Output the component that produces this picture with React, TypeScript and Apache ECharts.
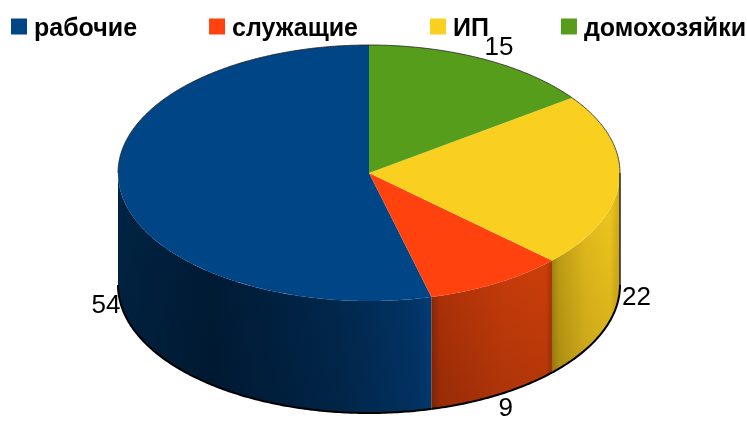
import React, { useEffect, useRef } from "react";
import * as echarts from "echarts";

const categories = ["рабочие", "служащие", "ИП", "домохозяйки"];
const shares = [54, 9, 22, 15];
const topColors = ["#004586", "#ff420e", "#f9d01f", "#579d1c"];
const sideStops: Array<Array<[number, string]>> = [
  [[0, "#012444"], [0.3, "#001c38"], [0.7, "#012a52"], [0.95, "#02386e"], [1, "#004080"]],
  [[0, "#8a2806"], [0.07, "#b03208"], [0.6, "#c63c0a"], [0.95, "#cc3e0a"], [1, "#a83208"]],
  [[0, "#a88a10"], [0.1, "#c9a416"], [0.5, "#e8c01c"], [0.85, "#f2ca1e"], [1, "#d4ac18"]],
  [[0, "#579d1c"], [1, "#579d1c"]],
];
const labelOffsets = [[-14, 3], [9, 12], [17, 3], [16, -13]];

const CX = 369, CY = 173, RX = 251, RY = 128, DEPTH = 112;
const TOTAL = shares.reduce((a, b) => a + b, 0);

// Slices run clockwise from twelve o'clock, last category first.
function sliceRange(i: number): [number, number] {
  let after = 0;
  for (let k = categories.length - 1; k > i; k--) after += shares[k];
  return [(after / TOTAL) * 360, ((after + shares[i]) / TOTAL) * 360];
}
function pt(deg: number, dy = 0): number[] {
  const r = (deg * Math.PI) / 180;
  return [CX + RX * Math.sin(r), CY - RY * Math.cos(r) + dy];
}
function arc(a: number, b: number, dy = 0): number[][] {
  const n = Math.max(2, Math.ceil(Math.abs(b - a) * 1.5));
  const out: number[][] = [];
  for (let j = 0; j <= n; j++) out.push(pt(a + ((b - a) * j) / n, dy));
  return out;
}

function renderSlice(i: number) {
  return (_: any, api: any) => {
    const [a, b] = sliceRange(i);
    const value = api.value(0);
    const children: any[] = [];
    const mid = (a + b) / 2;
    const cosMid = Math.cos((mid * Math.PI) / 180);
    const base = pt(mid, cosMid < 0.05 ? DEPTH : 0);
    children.push({
      type: "text",
      z2: 1,
      style: {
        text: String(value),
        x: base[0] + labelOffsets[i][0],
        y: base[1] + labelOffsets[i][1],
        fill: "#000",
        font: "26px 'Liberation Sans'",
        align: "center",
        verticalAlign: "middle",
      },
    });
    const sa = Math.max(a, 90), sb = Math.min(b, 270);
    if (sb > sa) {
      const pts = arc(sa, sb).concat(arc(sb, sa, DEPTH));
      children.push({
        type: "polygon",
        z2: 2,
        shape: { points: pts },
        style: {
          fill: new echarts.graphic.LinearGradient(
            0, 0, 1, 0,
            sideStops[i].map(([offset, color]) => ({ offset, color }))
          ),
        },
      });
      children.push({
        type: "polygon",
        z2: 3,
        shape: { points: pts },
        style: {
          fill: new echarts.graphic.LinearGradient(0, 0, 0, 1, [
            { offset: 0, color: "rgba(0,0,0,0)" },
            { offset: 1, color: "rgba(0,0,0,0.14)" },
          ]),
        },
      });
      children.push({
        type: "polyline",
        z2: 5,
        shape: { points: arc(sa, sb, DEPTH) },
        style: { stroke: "#000", lineWidth: 2, fill: "none" },
      });
      if (sa === 90) {
        children.push({
          type: "polyline",
          z2: 5,
          shape: { points: [pt(90), pt(90, DEPTH)] },
          style: { stroke: "#222", lineWidth: 1.5, fill: "none" },
        });
      }
    }
    children.push({
      type: "polygon",
      z2: 4,
      shape: { points: [[CX, CY], ...arc(a, b)] },
      style: { fill: topColors[i] },
    });
    if (a < 90) {
      children.push({
        type: "polyline",
        z2: 5,
        shape: { points: arc(a, Math.min(b, 90)) },
        style: { stroke: "#222", lineWidth: 0.8, fill: "none" },
      });
    }
    if (b > 270) {
      children.push({
        type: "polyline",
        z2: 5,
        shape: { points: arc(Math.max(a, 270), b) },
        style: { stroke: "#222", lineWidth: 0.8, fill: "none" },
      });
    }
    return { type: "group", children };
  };
}

export default function App() {
  const ref = useRef<HTMLDivElement>(null);
  useEffect(() => {
    const chart = echarts.init(ref.current!, null, { renderer: "svg" });
    chart.setOption({
      animation: false,
      backgroundColor: "#fff",
      legend: {
        left: 6,
        top: 9,
        width: 800,
        itemWidth: 16,
        itemHeight: 16,
        itemGap: 72,
        selectedMode: false,
        icon: "rect",
        data: categories,
        textStyle: { fontFamily: "'Liberation Sans'", fontSize: 25, fontWeight: 700, color: "#000", padding: [0, 0, 0, 2] },
      },
      series: categories.map((name, i) => ({
        type: "custom",
        name,
        coordinateSystem: "none",
        silent: true,
        itemStyle: { color: topColors[i] },
        data: [{ name, value: [shares[i]] }],
        renderItem: renderSlice(i),
      })),
    });
    return () => chart.dispose();
  }, []);
  return (
    <div
      ref={ref}
      style={{ position: "absolute", left: 0, top: 0, width: 747, height: 421, filter: "blur(0.45px)" }}
    />
  );
}
